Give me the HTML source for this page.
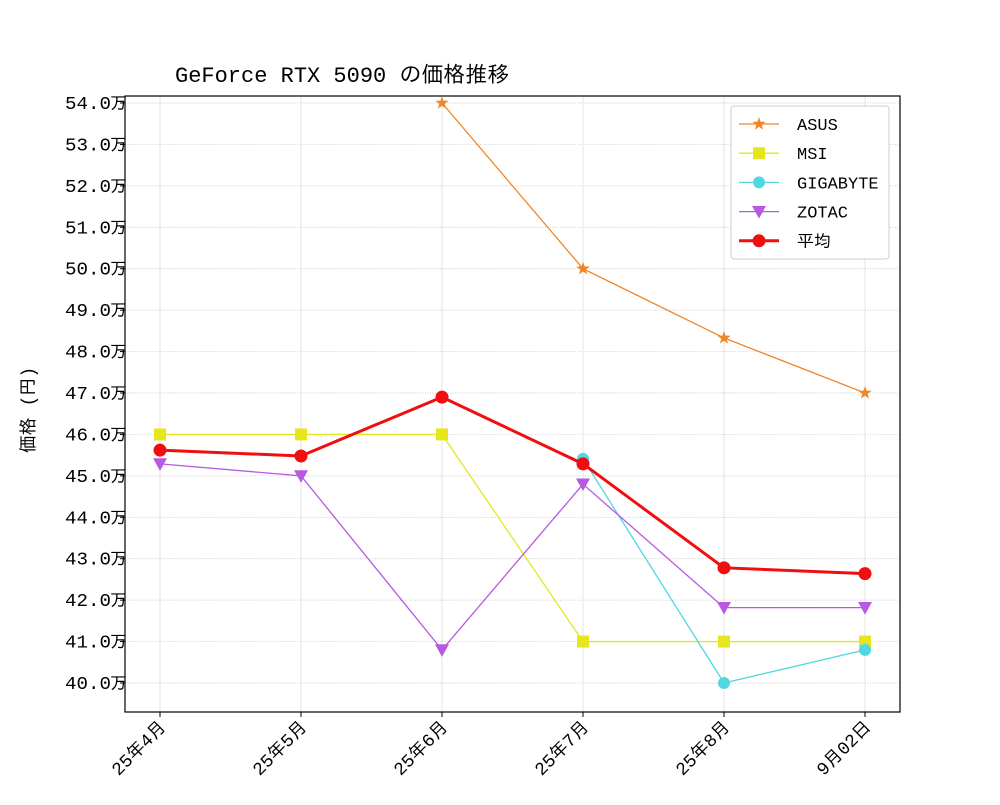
<!DOCTYPE html>
<html><head><meta charset="utf-8"><style>
body{margin:0;background:#fff}
svg text{font-family:"Liberation Mono","IPAGothic","Noto Sans CJK JP",monospace;fill:#000}
</style></head><body>
<svg id="c" width="1000" height="800"></svg>
<script>
const categories=["25年4月","25年5月","25年6月","25年7月","25年8月","9月02日"];
const yTicks=[40,41,42,43,44,45,46,47,48,49,50,51,52,53,54];
const asus=[null,null,54.0,50.0,48.33,47.0];
const msi=[46.0,46.0,46.0,41.0,41.0,41.0];
const gigabyte=[null,null,null,45.41,40.0,40.8];
const zotac=[45.29,45.0,40.8,44.8,41.82,41.82];
const average=[45.62,45.48,46.9,45.29,42.78,42.64];
const NS="http://www.w3.org/2000/svg";
const svg=document.getElementById('c');
const L=125,R=900,T=96,B=712;
const xs=i=>160+i*(865-160)/(categories.length-1);
const ys=v=>683-(v-40)*(683-103)/14;
function el(t,a,p){const e=document.createElementNS(NS,t);for(const k in a)e.setAttribute(k,a[k]);(p||svg).appendChild(e);return e;}
yTicks.forEach(v=>{const g=el('line',{x1:L,x2:R,y1:ys(v),y2:ys(v),stroke:'#bbb','stroke-width':0.7,'stroke-dasharray':'1,1.5'});

});
categories.forEach((c,i)=>{const g=el('line',{x1:xs(i),x2:xs(i),y1:T,y2:B,stroke:'#ddd','stroke-width':0.8});

});
const frame=el('rect',{x:L,y:T,width:R-L,height:B-T,fill:'none',stroke:'#000','stroke-width':1.2});


yTicks.forEach(v=>{el('line',{x1:L-5,x2:L,y1:ys(v),y2:ys(v),stroke:'#000'});
const t=el('text',{x:L-14,y:ys(v)+6,'text-anchor':'end','font-size':18,textLength:46,lengthAdjust:'spacingAndGlyphs'});t.textContent=v.toFixed(1);


const u=el('text',{x:L-15,y:ys(v)+6,'font-size':17});u.textContent='万';});
categories.forEach((c,i)=>{el('line',{x1:xs(i),x2:xs(i),y1:B,y2:B+5,stroke:'#000'});
const t=el('text',{x:xs(i)+7,y:B+16,'text-anchor':'end','font-size':18,transform:`rotate(-45 ${xs(i)+7} ${B+16})`});t.textContent=c;

});
const tt=el('text',{x:175,y:82,'font-size':22});tt.textContent='GeForce RTX 5090 の価格推移';


const yl=el('text',{x:34,y:410,'font-size':18,'text-anchor':'middle',transform:'rotate(-90 34 410)'});yl.textContent='価格 (円)';


function marker(g,m,x,y,col,s){
 if(m==='star'){let p=[];for(let k=0;k<10;k++){const r=k%2?s*0.4:s;const a=-Math.PI/2+k*Math.PI/5;p.push((x+r*Math.cos(a)).toFixed(1)+','+(y+r*Math.sin(a)).toFixed(1));}return el('polygon',{points:p.join(' '),fill:col},g);}
 if(m==='sq')return el('rect',{x:x-s,y:y-s,width:2*s,height:2*s,fill:col},g);
 if(m==='tri')return el('polygon',{points:`${x-s},${y-s*0.8} ${x+s},${y-s*0.8} ${x},${y+s}`,fill:col},g);
 return el('circle',{cx:x,cy:y,r:s,fill:col},g);
}
const series=[["ASUS",asus,'#f0862a','star',1.3,7],["MSI",msi,'#e6e61e','sq',1.3,6],["GIGABYTE",gigabyte,'#4fd8e2','circ',1.3,6],["ZOTAC",zotac,'#b85ae0','tri',1.3,7],["平均",average,'#f00f0f','circ',3,6.5]];
series.forEach(([name,d,col,m,w,s])=>{
 const g=el('g',{});
 
 
 let pts=d.map((v,i)=>v==null?null:[xs(i),ys(v)]).filter(p=>p);
 el('polyline',{points:pts.map(p=>p.join(',')).join(' '),fill:'none',stroke:col,'stroke-width':w},g);
 pts.forEach(p=>{const mk=marker(g,m,p[0],p[1],col,s);
 
 });
});
const lg=el('g',{});


el('rect',{x:731,y:106,width:158,height:153,fill:'#fff',stroke:'#ccc',rx:3},lg);
series.forEach(([name,d,col,m,w,s],k)=>{const y=124+k*29.2;
 const e=el('g',{},lg);
 
 
 el('line',{x1:739,x2:779,y1:y,y2:y,stroke:col,'stroke-width':w},e);marker(e,m,759,y,col,s);
 const t=el('text',{x:797,y:y+6,'font-size':17},e);t.textContent=name;});
</script></body></html>
